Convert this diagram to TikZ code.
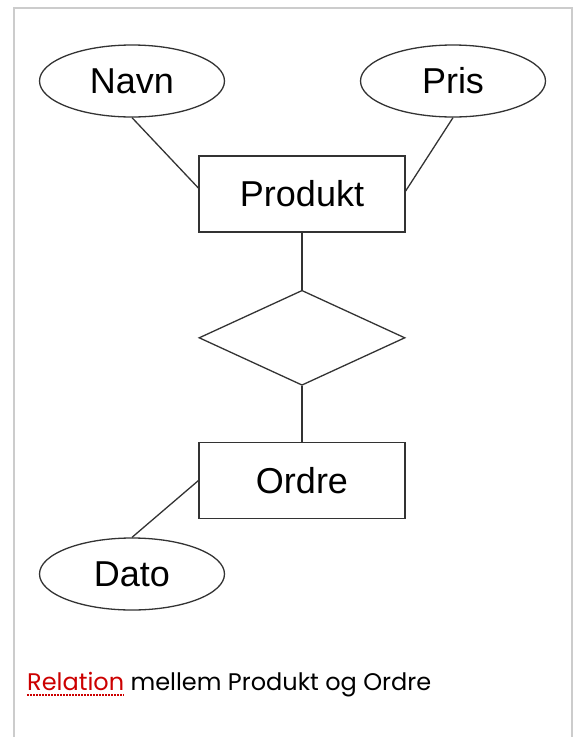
\documentclass[tikz,border=0pt]{standalone}
\usepackage{fontspec}
\setmainfont{Liberation Sans}
\newfontfamily\capfont{Poppins}
\usepackage{tikz}
\usetikzlibrary{shapes.geometric, positioning, calc}
\definecolor{linegray}{RGB}{51, 51, 51}
\definecolor{framegray}{RGB}{204, 204, 204}
\definecolor{spellred}{RGB}{204, 0, 0}

\tikzset{
    entity/.style={draw=linegray, line width=1.3pt, minimum width=206pt, minimum height=76pt, inner sep=0pt, font=\fontsize{36}{40}\selectfont},
    attrib/.style={ellipse, draw=linegray, line width=1.3pt, minimum width=185pt, minimum height=72pt, inner sep=0pt, font=\fontsize{36}{40}\selectfont},
    relship/.style={diamond, draw=linegray, line width=1.3pt, minimum width=206pt, minimum height=95pt, inner sep=0pt},
    link/.style={draw=linegray, line width=1.3pt}
}

\begin{document}
\begin{tikzpicture}[x=1pt, y=-1pt]
    \useasboundingbox (0,0) rectangle (579,737);

    % --- Ramme ---
    \draw[framegray, line width=1.5pt] (14,737) -- (14,8) -- (572,8) -- (572,737);

    % --- Entiteter og relation ---
    \node[entity] (produkt) at (302,194) {Produkt};
    \node[relship, below=57pt of produkt] (rel) {};
    \node[entity, below=56pt of rel] (ordre) {Ordre};

    % Attributter
    \node[attrib] (navn) at (132,81) {Navn};
    \node[attrib] (pris) at (453,81) {Pris};
    \node[attrib] (dato) at (132,574) {Dato};

    % --- Forbindelser ---
    \draw[link] (navn.south) -- ([yshift=6pt]produkt.west);
    \draw[link] (pris.south) -- ([yshift=3pt]produkt.east);
    \draw[link] (produkt) -- (rel);
    \draw[link] (rel) -- (ordre);
    \draw[link] (dato.north) -- (ordre.west);

    % --- Billedtekst ---
    \node[anchor=base west, inner sep=0pt, text=spellred, font=\capfont\fontsize{24}{28}\selectfont] (relord) at (27,690) {Relation};
    \node[anchor=base west, inner sep=0pt, font=\capfont\fontsize{24}{28}\selectfont] (restord) at ([xshift=6pt]relord.base east) {mellem Produkt og Ordre};
    \draw[spellred, line width=2pt, dash pattern=on 2pt off 1pt] ([yshift=-5pt]relord.base west) -- ([yshift=-5pt]relord.base east);
\end{tikzpicture}
\end{document}
